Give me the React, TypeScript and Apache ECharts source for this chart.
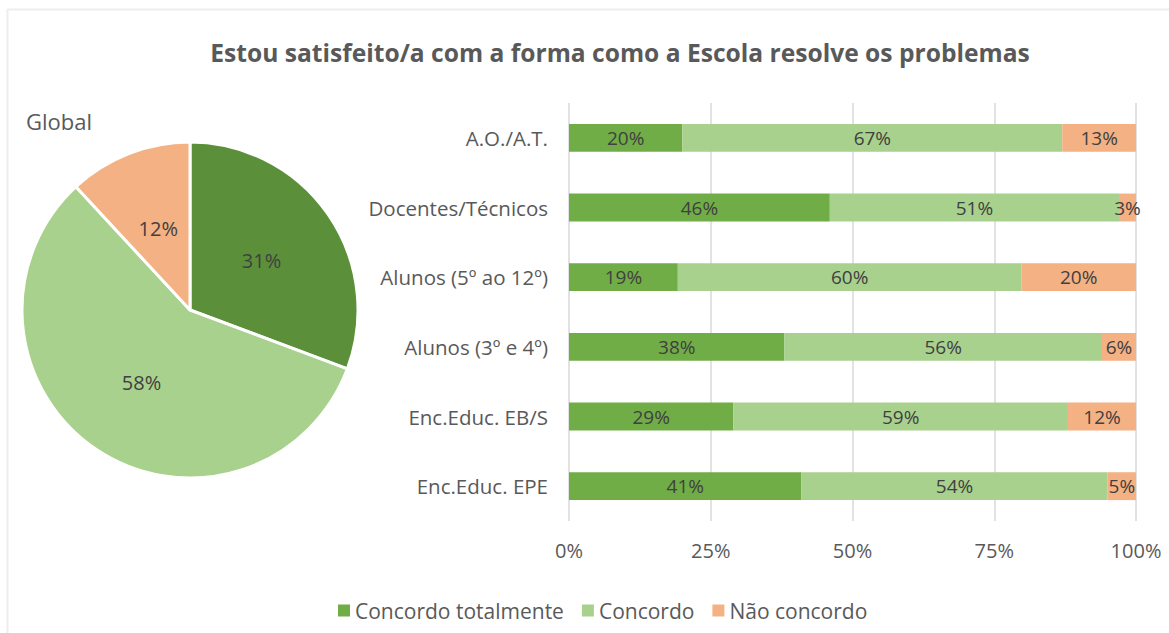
import React, { useEffect, useRef } from "react";
import * as echarts from "echarts";

const title = "Estou satisfeito/a com a forma como a Escola resolve os problemas";
const seriesNames = ["Concordo totalmente", "Concordo", "Não concordo"];
const categories = [
  "A.O./A.T.",
  "Docentes/Técnicos",
  "Alunos (5º ao 12º)",
  "Alunos (3º e 4º)",
  "Enc.Educ. EB/S",
  "Enc.Educ. EPE",
];
const concordoTotalmente = [20, 46, 19, 38, 29, 41];
const concordo = [67, 51, 60, 56, 59, 54];
const naoConcordo = [13, 3, 20, 6, 12, 5];
const globalValues = [31, 58, 12];
const xTicks = [0, 25, 50, 75, 100];

const FONT = "Open Sans";
const barColors = ["#70AD47", "#A9D18E", "#F4B183"];
const pieColors = ["#5B8F3A", "#A9D18E", "#F4B183"];

export default function App() {
  const ref = useRef<HTMLDivElement>(null);
  useEffect(() => {
    if (!ref.current) return;
    const chart = echarts.init(ref.current, undefined, { renderer: "svg" });
    const raw = [concordoTotalmente, concordo, naoConcordo];
    const totals = categories.map((_, i) => raw[0][i] + raw[1][i] + raw[2][i]);
    const barSeries = raw.map((vals, s) => ({
      type: "bar",
      name: seriesNames[s],
      stack: "total",
      barCategoryGap: "60%",
      itemStyle: { color: barColors[s] },
      data: vals.map((v, i) => (v / totals[i]) * 100),
      label: {
        show: true,
        position: "inside",
        color: "#404040",
        fontFamily: FONT,
        fontSize: 19,
        formatter: (p: any) => `${vals[p.dataIndex]}%`,
      },
      emphasis: { disabled: true },
    }));
    chart.setOption({
      animation: false,
      backgroundColor: "#ffffff",
      textStyle: { fontFamily: FONT },
      title: [
        {
          text: title,
          left: 615,
          top: 35,
          textAlign: "center",
          textStyle: { fontFamily: FONT, fontSize: 24.6, fontWeight: "bold", color: "#595959" },
        },
        {
          text: "Global",
          left: 21,
          top: 105,
          textStyle: { fontFamily: FONT, fontSize: 22, fontWeight: "normal", color: "#595959" },
        },
      ],
      legend: {
        data: seriesNames,
        left: 333,
        top: 595,
        icon: "rect",
        itemWidth: 12,
        itemHeight: 12,
        itemGap: 18,
        textStyle: { fontFamily: FONT, fontSize: 21, color: "#595959" },
      },
      grid: { left: 569, right: 33, top: 103, bottom: 112, containLabel: false },
      xAxis: {
        type: "value",
        min: 0,
        max: 100,
        interval: 25,
        axisLabel: {
          color: "#595959",
          fontFamily: FONT,
          fontSize: 20,
          margin: 19,
          formatter: (v: number) => (xTicks.includes(v) ? `${v}%` : ""),
        },
        splitLine: { lineStyle: { color: "#D9D9D9", width: 1.5 } },
        axisLine: { show: false },
        axisTick: { show: false },
      },
      yAxis: {
        type: "category",
        inverse: true,
        data: categories,
        axisLabel: { color: "#595959", fontFamily: FONT, fontSize: 20.5, margin: 21 },
        axisLine: { show: false },
        axisTick: { show: false },
      },
      series: [
        ...barSeries,
        {
          type: "pie",
          center: [190, 310],
          radius: 168,
          startAngle: 90,
          clockwise: true,
          itemStyle: { borderColor: "#ffffff", borderWidth: 3 },
          label: {
            show: true,
            position: "inside",
            color: "#404040",
            fontFamily: FONT,
            fontSize: 20,
            formatter: (p: any) => `${p.value}%`,
          },
          labelLine: { show: false },
          emphasis: { disabled: true },
          data: globalValues.map((v, i) => ({
            value: v,
            name: seriesNames[i],
            itemStyle: { color: pieColors[i] },
          })),
        },
      ],
      graphic: [
        { type: "line", shape: { x1: 7, y1: 9.5, x2: 1169, y2: 9.5 }, style: { stroke: "#EEEEEE", lineWidth: 2 } },
        { type: "line", shape: { x1: 7.5, y1: 9, x2: 7.5, y2: 633 }, style: { stroke: "#EEEEEE", lineWidth: 2 } },
      ],
    });
    return () => chart.dispose();
  }, []);
  return (
    <div
      ref={ref}
      style={{ position: "fixed", left: 0, top: 0, width: 1169, height: 633, background: "#fff" }}
    />
  );
}
